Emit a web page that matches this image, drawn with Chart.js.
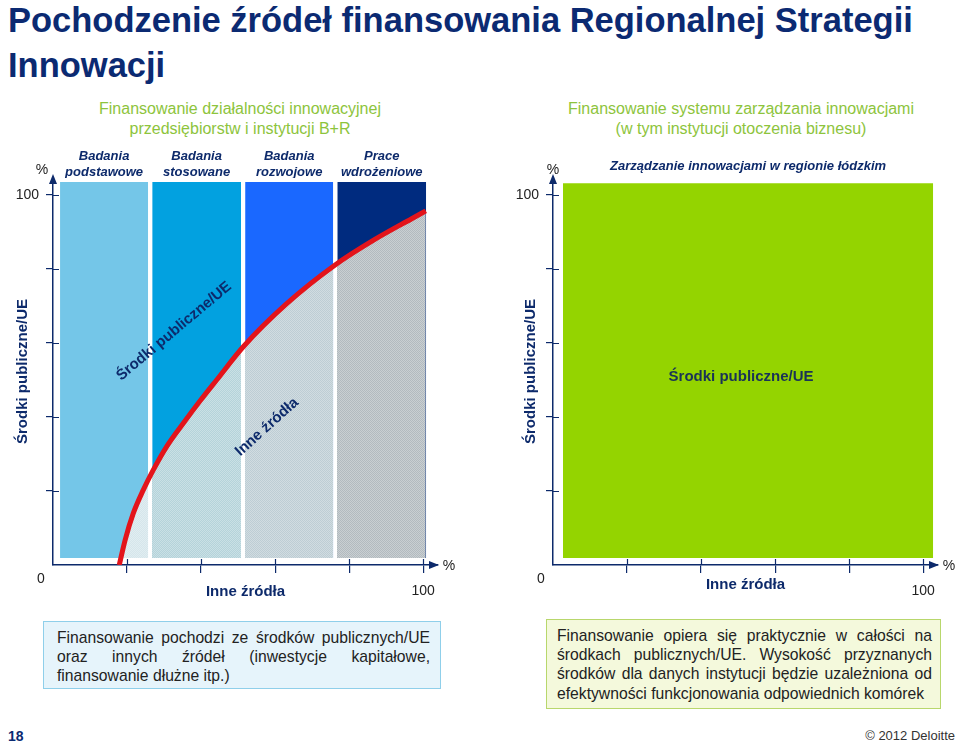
<!DOCTYPE html>
<html lang="pl">
<head>
<meta charset="utf-8">
<script src="https://cdn.jsdelivr.net/npm/chart.js@4/dist/chart.umd.min.js"></script>
<style>
  body { margin: 0; width: 960px; height: 743px; position: relative; overflow: hidden; background: #fff;
         font-family: "Liberation Sans", Arial, sans-serif; }
  .tytul { position: absolute; left: 8px; top: -2px; font-size: 34.5px; font-weight: bold; color: #0b2a72; line-height: 45px; }
  .naglowek { position: absolute; top: 99px; text-align: center; font-size: 16px; color: #8dc43c; line-height: 20px; }
  .ramka { position: absolute; font-size: 15.7px; line-height: 19.2px; color: #222; text-align: justify; box-sizing: border-box; padding: 6px 10px 0 13px; }
  .niebieska { left: 43px; top: 621px; width: 398px; height: 68px; background: #e6f4fb; border: 1.5px solid #8fcfea; }
  .zielona { left: 546px; top: 619px; width: 395px; height: 90px; background: #f4f9dc; border: 1.5px solid #b8d76c; padding-left: 10px; padding-right: 8px; }
  .stopka { position: absolute; top: 728px; font-size: 14px; }
  canvas { position: absolute; top: 140px; }
</style>
</head>
<body>
<div class="tytul">Pochodzenie źródeł finansowania Regionalnej Strategii<br>Innowacji</div>
<div class="naglowek" style="left:0; width:480px;">Finansowanie działalności innowacyjnej<br>przedsiębiorstw i instytucji B+R</div>
<div class="naglowek" style="left:500px; width:482px;">Finansowanie systemu zarządzania innowacjami<br>(w tym instytucji otoczenia biznesu)</div>

<canvas id="wykres-lewy" width="470" height="470" style="left:0"></canvas>
<canvas id="wykres-prawy" width="460" height="470" style="left:500px"></canvas>

<div class="ramka niebieska">Finansowanie pochodzi ze środków publicznych/UE oraz innych źródeł (inwestycje kapitałowe, finansowanie dłużne itp.)</div>
<div class="ramka zielona">Finansowanie opiera się praktycznie w całości na środkach publicznych/UE. Wysokość przyznanych środków dla danych instytucji będzie uzależniona od efektywności funkcjonowania odpowiednich komórek</div>

<div class="stopka" style="left:8px; font-weight:bold; color:#0b2a72;">18</div>
<div class="stopka" style="right:5px; font-size:13px; color:#333;">© 2012 Deloitte</div>

<script>
// --- dane ---
const osTicks = [0, 20, 40, 60, 80, 100];

// lewy wykres: cztery kolumny (oś X = % innych źródeł)
const kategorie = [['Badania', 'podstawowe'], ['Badania', 'stosowane'], ['Badania', 'rozwojowe'], ['Prace', 'wdrożeniowe']];
const slupekOd = [1.9, 26.8, 51.9, 76.8];
const slupekDo = [25.7, 50.8, 75.7, 100.8];
const slupekGora = [103.5, 103.5, 103.5, 103.5];
const slupekDol = [1.9, 1.9, 1.9, 1.9];

// czerwona granica: środki publiczne/UE vs inne źródła
const granicaX = [17.9, 19.5, 21.7, 24.4, 27.1, 30.7, 35.2, 39.7, 44.2, 51.4, 63.2, 76.2, 86.6, 96.9, 100.7];
const granicaY = [0, 6.8, 14.0, 20.3, 25.7, 32.0, 38.3, 44.3, 50.0, 59.0, 70.7, 81.1, 87.8, 93.6, 95.7];

// prawy wykres: jedna kolumna
const kategoriePrawe = ['Zarządzanie innowacjami w regionie łódzkim'];
const zarzadzanieOd = [2.7];
const zarzadzanieDo = [102.7];
const zarzadzanieGora = [103.2];
const zarzadzanieDol = [1.9];

// --- kolory ---
const GRANAT = '#0d2a6b';
const FONT = '"Liberation Sans", Arial, sans-serif';
const koloryPubliczne = ['#74c6e8', '#02a1e0', '#1a68ff', '#002b7f'];
const koloryInne = ['#d5e6eb', '#b4d3da', '#bdcdd4', '#b2babf'];
const kolorZarzadzanie = '#94d400';

// Prostokąt kolumny jako wypełniona linia (krawędzie w jednostkach osi)
const prostokat = (od, koniec, gora, dol, kolor) => ({
    type: 'line',
    data: [{ x: od, y: gora }, { x: koniec, y: gora }],
    fill: { value: dol },
    backgroundColor: kolor,
    borderColor: 'rgba(0,0,0,0)',
    borderWidth: 0,
    pointRadius: 0,
    tension: 0,
    order: 1
});

// Wzór kropkowany dla "innych źródeł" - inny odcień pod każdą kolumną
const wzorInnychZrodel = (chart) => {
    const x = chart.scales.x;
    const c = document.createElement('canvas');
    c.width = chart.width;
    c.height = 2;
    const g = c.getContext('2d');
    koloryInne.forEach((kolor, i) => {
        const x0 = Math.round(x.getPixelForValue(slupekOd[i]));
        const x1 = Math.round(x.getPixelForValue(slupekDo[i]));
        g.fillStyle = kolor;
        g.fillRect(x0, 0, x1 - x0, 2);
        g.fillStyle = 'rgba(255,255,255,0.3)';
        for (let px = x0; px < x1; px += 2) {
            g.fillRect(px, 0, 1, 1);
            g.fillRect(px + 1, 1, 1, 1);
        }
    });
    return chart.ctx.createPattern(c, 'repeat');
};

// Strzałki osi, wewnętrzne kreski podziałki, "%", "0" i napisy na polu wykresu
const dodatki = {
    id: 'dodatki',
    afterDatasetsDraw(chart, args, o) {
        const { ctx, chartArea: a, scales: { x, y } } = chart;
        ctx.save();
        ctx.strokeStyle = GRANAT;
        ctx.fillStyle = GRANAT;
        ctx.lineWidth = 1.2;
        ctx.beginPath();
        osTicks.filter(v => v > 0).forEach(v => {
            const py = Math.round(y.getPixelForValue(v)) + 0.5;
            ctx.moveTo(a.left, py); ctx.lineTo(a.left + 6, py);
            const px = Math.round(x.getPixelForValue(v)) + 0.5;
            ctx.moveTo(px, a.bottom); ctx.lineTo(px, a.bottom - 6);
        });
        ctx.stroke();

        ctx.beginPath();
        ctx.moveTo(a.left, a.top - 4); ctx.lineTo(a.left - 4, a.top + 6); ctx.lineTo(a.left + 4, a.top + 6); ctx.closePath();
        ctx.moveTo(a.right + 1, a.bottom); ctx.lineTo(a.right - 9, a.bottom - 4); ctx.lineTo(a.right - 9, a.bottom + 4); ctx.closePath();
        ctx.fill();

        ctx.font = '14px ' + FONT;
        ctx.fillStyle = '#222';
        ctx.textAlign = 'center';
        ctx.textBaseline = 'middle';
        ctx.fillText('%', a.left + o.procent[0], a.top + o.procent[1]);
        ctx.fillText('%', a.right + 11, a.bottom + 1);
        ctx.fillText('0', a.left - 12, a.bottom + 14);

        o.napisy.forEach(n => {
            ctx.save();
            ctx.translate(x.getPixelForValue(n.x), y.getPixelForValue(n.y));
            ctx.rotate(n.kat * Math.PI / 180);
            ctx.font = 'bold 15px ' + FONT;
            ctx.fillStyle = n.kolor;
            ctx.fillText(n.tekst, 0, 0);
            ctx.restore();
        });
        ctx.restore();
    }
};

const kolorPodzialki = c => (c.tick && c.tick.value === 0) ? 'rgba(0,0,0,0)' : GRANAT;

const skale = (etykiety, srodki, u) => ({
    x: {
        type: 'linear', min: 0, max: 104,
        afterBuildTicks: s => { s.ticks = osTicks.map(v => ({ value: v })); },
        afterFit: s => { s.height = 45; },
        grid: { drawOnChartArea: false, tickLength: 8, color: kolorPodzialki, lineWidth: 1.2 },
        border: { color: GRANAT, width: 1.5 },
        ticks: { padding: 10, color: '#222', font: { family: FONT, size: 14 }, maxRotation: 0, autoSkip: false,
                 callback: v => v === 100 ? '100' : '' },
        title: { display: true, text: 'Inne źródła', color: GRANAT, font: { family: FONT, size: 15, weight: 'bold' },
                 padding: { top: 0, bottom: u.tytulX } }
    },
    xTop: {
        type: 'linear', position: 'top', min: 0, max: 104,
        afterBuildTicks: s => { s.ticks = srodki.map(v => ({ value: v })); },
        afterFit: s => { s.height = 38; },
        grid: { display: false, drawTicks: false },
        border: { display: false },
        ticks: { padding: u.naglowek, color: GRANAT, font: { family: FONT, size: 13, weight: 'bold', style: 'italic' },
                 maxRotation: 0, autoSkip: false, callback: (v, i) => etykiety[i] }
    },
    y: {
        type: 'linear', min: 0, max: 104.6,
        afterBuildTicks: s => { s.ticks = osTicks.map(v => ({ value: v })); },
        afterFit: s => { s.width = 53; },
        grid: { drawOnChartArea: false, tickLength: 7, color: kolorPodzialki, lineWidth: 1.2 },
        border: { color: GRANAT, width: 1.5 },
        ticks: { padding: 7, color: '#222', font: { family: FONT, size: 14 }, callback: v => v === 100 ? '100' : '' },
        title: { display: true, text: 'Środki publiczne/UE', color: GRANAT, font: { family: FONT, size: 15, weight: 'bold' },
                 padding: { top: u.tytulY, bottom: 0 } }
    }
});

const wspolne = (prawyMargines) => ({
    responsive: false,
    animation: false,
    layout: { padding: { right: prawyMargines } },
    plugins: { legend: { display: false }, tooltip: { enabled: false } }
});

// --- lewy wykres ---
const srodkiLewe = slupekOd.map((od, i) => (od + slupekDo[i]) / 2);
const zestawyLewe = slupekOd.map((od, i) => prostokat(od, slupekDo[i], slupekGora[i], slupekDol[i], koloryPubliczne[i]));
zestawyLewe.push({
    type: 'line',
    data: granicaX.map((gx, i) => ({ x: gx, y: granicaY[i] })),
    borderColor: '#e3141b',
    borderWidth: 5,
    pointRadius: 0,
    cubicInterpolationMode: 'monotone',
    fill: { value: slupekDol[0] },
    backgroundColor: c => c.chart.chartArea ? wzorInnychZrodel(c.chart) : 'rgba(0,0,0,0)',
    order: 0
});

new Chart(document.getElementById('wykres-lewy'), {
    type: 'line',
    data: { datasets: zestawyLewe },
    options: Object.assign(wspolne(32), {
        scales: skale(kategorie, srodkiLewe, { tytulX: 9, tytulY: 14, naglowek: -2 }),
        plugins: {
            legend: { display: false }, tooltip: { enabled: false },
            dodatki: {
                procent: [-11, -8],
                napisy: [
                    { tekst: 'Środki publiczne/UE', x: 32.7, y: 63.2, kat: -40, kolor: GRANAT },
                    { tekst: 'Inne źródła', x: 57.8, y: 37.3, kat: -42, kolor: GRANAT }
                ]
            }
        }
    }),
    plugins: [dodatki]
});

// --- prawy wykres ---
const srodkiPrawe = zarzadzanieOd.map((od, i) => (od + zarzadzanieDo[i]) / 2);
const zestawyPrawe = zarzadzanieOd.map((od, i) =>
    prostokat(od, zarzadzanieDo[i], zarzadzanieGora[i], zarzadzanieDol[i], kolorZarzadzanie));

new Chart(document.getElementById('wykres-prawy'), {
    type: 'line',
    data: { datasets: zestawyPrawe },
    options: Object.assign(wspolne(22), {
        scales: skale(kategoriePrawe, srodkiPrawe, { tytulX: 16, tytulY: 22, naglowek: 4 }),
        plugins: {
            legend: { display: false }, tooltip: { enabled: false },
            dodatki: {
                procent: [0, -8],
                napisy: [
                    { tekst: 'Środki publiczne/UE', x: 50.8, y: 50.8, kat: 0, kolor: '#1a3257' }
                ]
            }
        }
    }),
    plugins: [dodatki]
});
</script>
</body>
</html>
